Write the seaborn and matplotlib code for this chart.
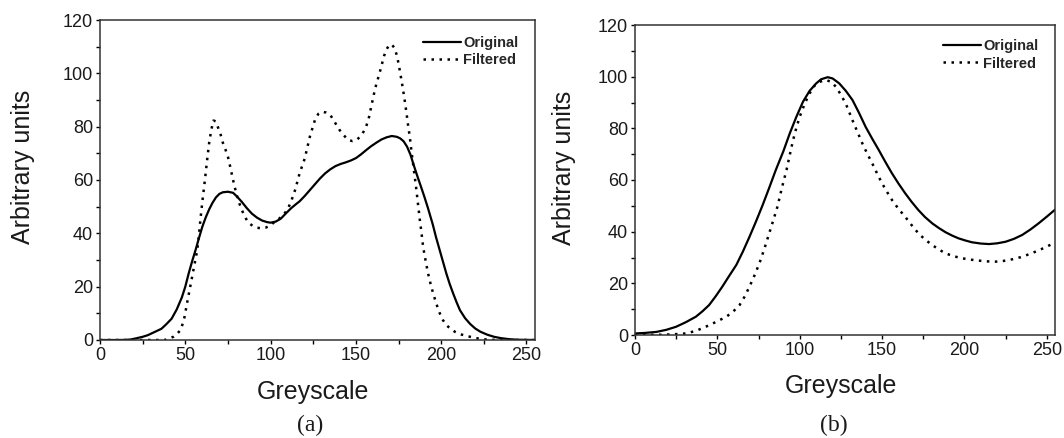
import numpy as np
import matplotlib
matplotlib.use("Agg")
import matplotlib.pyplot as plt
from matplotlib.ticker import MultipleLocator
import seaborn as sns

# --- dados (a) ---
xa_orig = [0, 10, 15, 18, 21, 25, 28, 31, 34, 36, 39, 42, 45, 48, 50, 52, 54, 56, 58, 60,
           62, 64, 66, 68, 70, 72, 75, 78, 80, 83, 86, 89, 92, 95, 98, 100, 103, 106, 109,
           112, 115, 117, 120, 123, 126, 129, 132, 135, 138, 141, 144, 147, 150, 153, 156,
           159, 162, 165, 168, 171, 174, 176, 178, 180, 182, 184, 186, 188, 190, 192, 195,
           197, 199, 201, 203, 205, 207, 209, 211, 214, 217, 220, 223, 227, 231, 235, 240,
           245, 255]
ya_orig = [0, 0, 0.05, 0.2, 0.6, 1.2, 1.8, 2.7, 3.6, 4.2, 6, 8, 11.5, 16, 20, 25, 29.5, 33.7,
           38.2, 42.5, 46, 49, 51.5, 53.5, 54.8, 55.4, 55.6, 55.2, 54, 51.9, 49.5, 47.4, 45.9,
           44.8, 44.2, 44, 44.4, 45.5, 47.5, 49.4, 51, 52, 54, 56.2, 58.4, 60.6, 62.5, 64,
           65.2, 66, 66.6, 67.3, 68.2, 69.6, 71.2, 72.7, 74, 75.2, 76, 76.5, 76.2, 75.6, 74.5,
           72.5, 69.5, 65.4, 61.5, 57.8, 54, 50, 43.5, 38.5, 34, 29.5, 25, 21, 17.5, 14.2,
           11.2, 8.2, 6, 4.3, 3.1, 2, 1.2, 0.7, 0.3, 0.1, 0]

xa_filt = [0, 38, 43, 45.5, 47.5, 49.5, 51, 52.5, 54, 55.5, 57, 58, 59, 60.2, 61.5, 62.8, 64,
           65.3, 66.5, 67.8, 69, 70.5, 72, 73.5, 75, 76.5, 78, 79.5, 81, 82.5, 84, 85.5, 87,
           89.5, 92, 94.5, 97, 100, 102.5, 105, 107.5, 110, 112, 114.5, 117, 120, 123, 126,
           128, 130, 132.5, 135, 137.5, 140.5, 143, 145.5, 148, 150.5, 152.5, 154.5, 156,
           157.5, 159, 160.5, 162, 163.5, 165, 166.5, 168, 169.5, 171, 172.8, 174.3, 175.7,
           176.7, 177.7, 178.7, 179.7, 180.6, 181.6, 182.5, 183.5, 184.5, 185.5, 186.5, 187.5,
           188.5, 189.4, 190.8, 192.3, 193.8, 195.3, 197.2, 199.2, 201, 203, 205.5, 208, 211,
           215, 219, 223, 228, 235, 255]
ya_filt = [0, 0, 1.2, 2.5, 4, 8.5, 13.7, 18.7, 23.7, 28.7, 33.7, 39.5, 46, 53, 60, 67.5, 74,
           79, 82.3, 82, 80, 77.5, 74, 71.5, 68.7, 64.5, 60, 56, 52.5, 49.8, 47.5, 45.6, 44,
           42.8, 42.1, 41.9, 42.1, 43, 44.4, 45.5, 46.9, 49, 51.9, 56.5, 62.5, 68, 76.2, 82.5,
           84.8, 85.6, 85.3, 84.4, 81.8, 78.7, 76.7, 75, 74.6, 75, 76.3, 78.1, 80, 83, 87.5,
           92, 96, 99.2, 102.8, 106.5, 109, 110.6, 110.8, 109.4, 106, 101.2, 97.5, 93.7, 89.5,
           85, 80.5, 76.2, 71.2, 66.2, 61.2, 56.2, 50.5, 45, 40, 35, 30, 25, 21, 17.5, 13.5,
           10, 7.5, 5.6, 4.2, 3.1, 2.2, 1.5, 0.9, 0.4, 0.1, 0, 0]

# --- dados (b) ---
xb_orig = [0, 6, 13, 19, 25, 31, 37, 41, 45, 49, 53, 57, 61.5, 65.5, 69.5, 73.5, 77.5, 81.5,
           85.5, 90, 94, 98, 102, 106, 110, 113, 117, 120, 124, 128, 132, 136, 140, 144, 148,
           152, 156, 160, 164, 168, 172, 176, 180.5, 184.5, 188.5, 192.5, 196.5, 200.5, 204.5,
           210, 215, 220, 225, 230, 235, 240, 245, 250, 255]
yb_orig = [0.6, 0.8, 1.2, 2, 3.2, 5, 7.1, 9.2, 11.6, 15, 18.7, 22.7, 27.1, 32.3, 38, 44, 50.3,
           57, 63.9, 71, 78.1, 84.5, 90.3, 94.5, 97.4, 99, 99.8, 99.3, 97.4, 94.5, 91, 86,
           80.6, 76, 71.6, 67, 62.6, 58.6, 54.9, 51.5, 48.4, 45.7, 43.2, 41.4, 39.8, 38.5,
           37.4, 36.6, 35.9, 35.4, 35.2, 35.5, 36.1, 37.2, 38.7, 40.8, 43.2, 45.8, 48.5]

xb_filt = [0, 17, 24, 31, 37, 43, 49, 55.5, 59.5, 63.5, 66.5, 69.5, 72.5, 75.5, 78.5, 81.5,
           84, 86.5, 89, 92, 94, 96, 98, 100, 103, 106, 109, 112, 116, 119, 122, 125, 128,
           132, 135, 138, 141, 144, 147, 150, 153, 156, 160, 164, 168, 172, 176, 180.5, 184.5,
           188.5, 193.5, 198.5, 203.5, 208.5, 214, 219, 224, 229, 234, 239, 244.5, 250, 255]
yb_filt = [0, 0.1, 0.3, 0.6, 1.6, 3.2, 5, 7.1, 9, 11.6, 14.8, 18.7, 23, 27.7, 33.3, 39.4, 44.5,
           49.7, 56.5, 63.9, 69.8, 75.5, 80.3, 84.5, 89.5, 93.5, 96.5, 98, 98.7, 98, 96.1, 93,
           89.5, 83.2, 78.7, 74.2, 70.2, 66.5, 62.5, 58.7, 55.4, 52.3, 48.8, 45.8, 42.5, 39.4,
           37, 34.8, 33.1, 31.6, 30.5, 29.7, 29.2, 28.8, 28.5, 28.4, 28.7, 29.3, 30.1, 31.2,
           32.6, 34.2, 35.8]

sns.set_theme(style="ticks")
plt.rcParams['font.family'] = ['Liberation Sans', 'DejaVu Sans']

fig = plt.figure(figsize=(10.64, 4.38), dpi=100)
ax_a = fig.add_axes([100 / 1064, 98 / 438, 435 / 1064, 320 / 438])
ax_b = fig.add_axes([635 / 1064, 103 / 438, 420 / 1064, 310 / 438])

pontilhado = (0, (1, 2.2))

paineis = [
    (ax_a, xa_orig, ya_orig, xa_filt, ya_filt, (0.985, 0.983)),
    (ax_b, xb_orig, yb_orig, xb_filt, yb_filt, (0.985, 0.988)),
]

for ax, xo, yo, xf, yf, leg_pos in paineis:
    sns.lineplot(x=xo, y=yo, ax=ax, color='black', lw=1.6, label='Original')
    sns.lineplot(x=xf, y=yf, ax=ax, color='black', lw=1.8, linestyle=pontilhado,
                 label='Filtered')
    ax.set_xlim(0, 255)
    ax.set_ylim(0, 120)
    ax.xaxis.set_major_locator(MultipleLocator(50))
    ax.xaxis.set_minor_locator(MultipleLocator(25))
    ax.yaxis.set_major_locator(MultipleLocator(20))
    ax.yaxis.set_minor_locator(MultipleLocator(10))
    ax.tick_params(which='both', direction='out', length=3, width=1, color='black',
                   labelsize=13, pad=2, labelcolor='#1a1a1a')
    for s in ax.spines.values():
        s.set_visible(True)
        s.set_linewidth(1.1)
        s.set_color('#333333')
    ax.set_xlabel('Greyscale', fontsize=18, color='#1a1a1a')
    ax.set_ylabel('Arbitrary units', fontsize=18, color='#1a1a1a')
    leg = ax.legend(loc='upper right', bbox_to_anchor=leg_pos, frameon=False,
                    fontsize=10.5, handlelength=2.6, handletextpad=0.15,
                    borderpad=0.2, labelspacing=0.25)
    for t in leg.get_texts():
        t.set_fontweight('semibold')

ax_a.xaxis.set_label_coords(0.49, -0.125)
ax_a.yaxis.set_label_coords(-0.15, 0.54)
ax_b.xaxis.set_label_coords(0.49, -0.125)
ax_b.yaxis.set_label_coords(-0.14, 0.54)

fig.text(310 / 1064, 1 - 425 / 438, '(a)', family='Liberation Serif', fontsize=17,
         ha='center', va='center', color='#1a1a1a')
fig.text(834 / 1064, 1 - 425 / 438, '(b)', family='Liberation Serif', fontsize=17,
         ha='center', va='center', color='#1a1a1a')

fig.savefig('out.png', dpi=100)
